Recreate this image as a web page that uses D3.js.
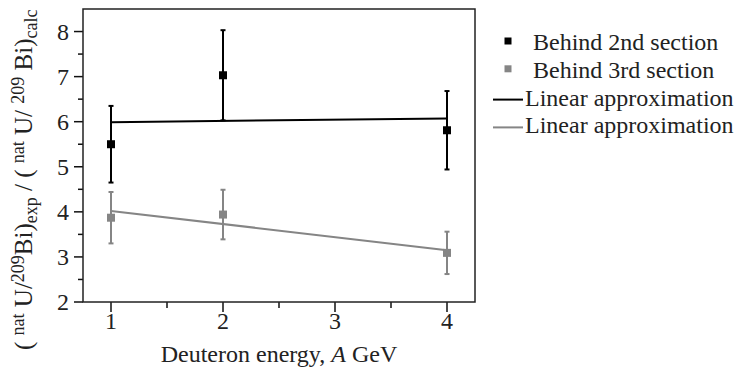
<!DOCTYPE html>
<html><head><meta charset="utf-8">
<script src="https://cdn.jsdelivr.net/npm/d3@7"></script>
<style>body{margin:0;background:#fff}svg{display:block}</style>
</head><body>
<svg id="c" width="749" height="370" font-family="'Liberation Serif', serif"></svg>
<script>
const energies = [1, 2, 4];
const section2 = [5.50, 7.03, 5.81];
const section2Err = [0.85, 1.00, 0.87];
const section3 = [3.87, 3.94, 3.09];
const section3Err = [0.57, 0.55, 0.47];
const fit2 = [[1, 5.99], [4, 6.07]];
const fit3 = [[1, 4.02], [4, 3.15]];
const xTicks = [1, 2, 3, 4];
const yTicks = [2, 3, 4, 5, 6, 7, 8];
const legendLabels = ["Behind 2nd section", "Behind 3rd section", "Linear approximation", "Linear approximation"];
const colors = ["#000000", "#858585"];
const FF = "'Liberation Serif', serif";

const svg = d3.select("#c");
const m = {l: 83, r: 475, t: 9, b: 302};
const x = d3.scaleLinear().domain([0.75, 4.25]).range([m.l, m.r]);
const y = d3.scaleLinear().domain([2, 8.5]).range([m.b, m.t]);

const xMinor = d3.range(1.5, 4.25, 1);
const yMinor = d3.range(2.5, 8.5, 1);
const g = svg.append("g");
g.selectAll(".xmaj").data(xTicks).join("line").attr("class","xmaj")
  .attr("x1", d => x(d)).attr("x2", d => x(d)).attr("y1", m.b).attr("y2", m.b + 10)
  .attr("stroke", "#111").attr("stroke-width", 1.5);
g.selectAll(".xmin").data(xMinor).join("line").attr("class","xmin")
  .attr("x1", d => x(d)).attr("x2", d => x(d)).attr("y1", m.b).attr("y2", m.b + 6)
  .attr("stroke", "#111").attr("stroke-width", 1.5);
g.selectAll(".ymaj").data(yTicks).join("line").attr("class","ymaj")
  .attr("x1", m.l - 9).attr("x2", m.l).attr("y1", d => y(d)).attr("y2", d => y(d))
  .attr("stroke", "#111").attr("stroke-width", 1.5);
g.selectAll(".ymin").data(yMinor).join("line").attr("class","ymin")
  .attr("x1", m.l - 5).attr("x2", m.l).attr("y1", d => y(d)).attr("y2", d => y(d))
  .attr("stroke", "#111").attr("stroke-width", 1.5);

g.selectAll(".xl").data(xTicks).join("text").attr("class","xl")
  .attr("x", d => x(d)).attr("y", m.b + 27).attr("text-anchor", "middle").attr("font-family", FF)
  .attr("font-size", 24).attr("fill", "#222").text(d => d);
g.selectAll(".yl").data(yTicks).join("text").attr("class","yl")
  .attr("x", m.l - 14).attr("y", d => y(d) + 8).attr("text-anchor", "end").attr("font-family", FF)
  .attr("font-size", 24).attr("fill", "#222").text(d => d);

svg.append("rect").attr("x", m.l).attr("y", m.t).attr("width", m.r - m.l).attr("height", m.b - m.t)
  .attr("fill", "none").attr("stroke", "#222").attr("stroke-width", 1.5);

const line = d3.line().x(d => x(d[0])).y(d => y(d[1]));
[fit2, fit3].forEach((f, i) => {
  svg.append("path").attr("d", line(f)).attr("fill", "none")
    .attr("stroke", colors[i]).attr("stroke-width", 2);
});

[[section2, section2Err], [section3, section3Err]].forEach(([vals, errs], i) => {
  const gg = svg.append("g");
  energies.forEach((e, k) => {
    const cx = x(e);
    gg.append("line").attr("x1", cx).attr("x2", cx)
      .attr("y1", y(vals[k] + errs[k])).attr("y2", y(vals[k] - errs[k]))
      .attr("stroke", colors[i]).attr("stroke-width", 2);
    [vals[k] + errs[k], vals[k] - errs[k]].forEach(v => {
      gg.append("line").attr("x1", cx - 2.5).attr("x2", cx + 2.5)
        .attr("y1", y(v)).attr("y2", y(v)).attr("stroke", colors[i]).attr("stroke-width", 2);
    });
    gg.append("rect").attr("x", cx - 4).attr("y", y(vals[k]) - 4)
      .attr("width", 8).attr("height", 8).attr("fill", colors[i]);
  });
});

const xt = svg.append("text").attr("x", (m.l + m.r) / 2).attr("y", 362).attr("font-family", FF)
  .attr("text-anchor", "middle").attr("font-size", 24).attr("fill", "#222");
xt.append("tspan").text("Deuteron energy, ");
xt.append("tspan").attr("font-style", "italic").text("A");
xt.append("tspan").text(" GeV");

const yt = svg.append("text").attr("transform", "translate(32,350) rotate(-90)").attr("font-family", FF)
  .attr("text-anchor", "start").attr("font-size", 24).attr("fill", "#222").attr("xml:space", "preserve");
const parts = [
  ["( ", 0], ["nat", 1], [" U/", 0], ["209", 1], ["Bi)", 0], ["exp", -1],
  [" / ( ", 0], ["nat", 1], [" U/ ", 0], ["209", 1], [" Bi)", 0], ["calc", -1]
];
let prev = 0;
parts.forEach(([t, s]) => {
  const off = s === 1 ? -8 : s === -1 ? 5 : 0;
  yt.append("tspan").attr("dy", off - prev).attr("font-size", s === 0 ? 25 : 18)
    .style("white-space", "pre").text(t);
  prev = off;
});

const lg = svg.append("g");
legendLabels.forEach((lab, i) => {
  const ly = 50 + i * 27.8;
  if (i < 2) {
    lg.append("rect").attr("x", 504.5).attr("y", ly - 12.5).attr("width", 7).attr("height", 7).attr("fill", colors[i]);
    lg.append("text").attr("x", 533).attr("y", ly).attr("font-family", FF).attr("font-size", 24).attr("fill", "#222").text(lab);
  } else {
    lg.append("line").attr("x1", 493).attr("x2", 523).attr("y1", ly - 6).attr("y2", ly - 6)
      .attr("stroke", colors[i - 2]).attr("stroke-width", 2);
    lg.append("text").attr("x", 525).attr("y", ly).attr("font-family", FF).attr("font-size", 24).attr("fill", "#222").text(lab);
  }
});
</script>
</body></html>
